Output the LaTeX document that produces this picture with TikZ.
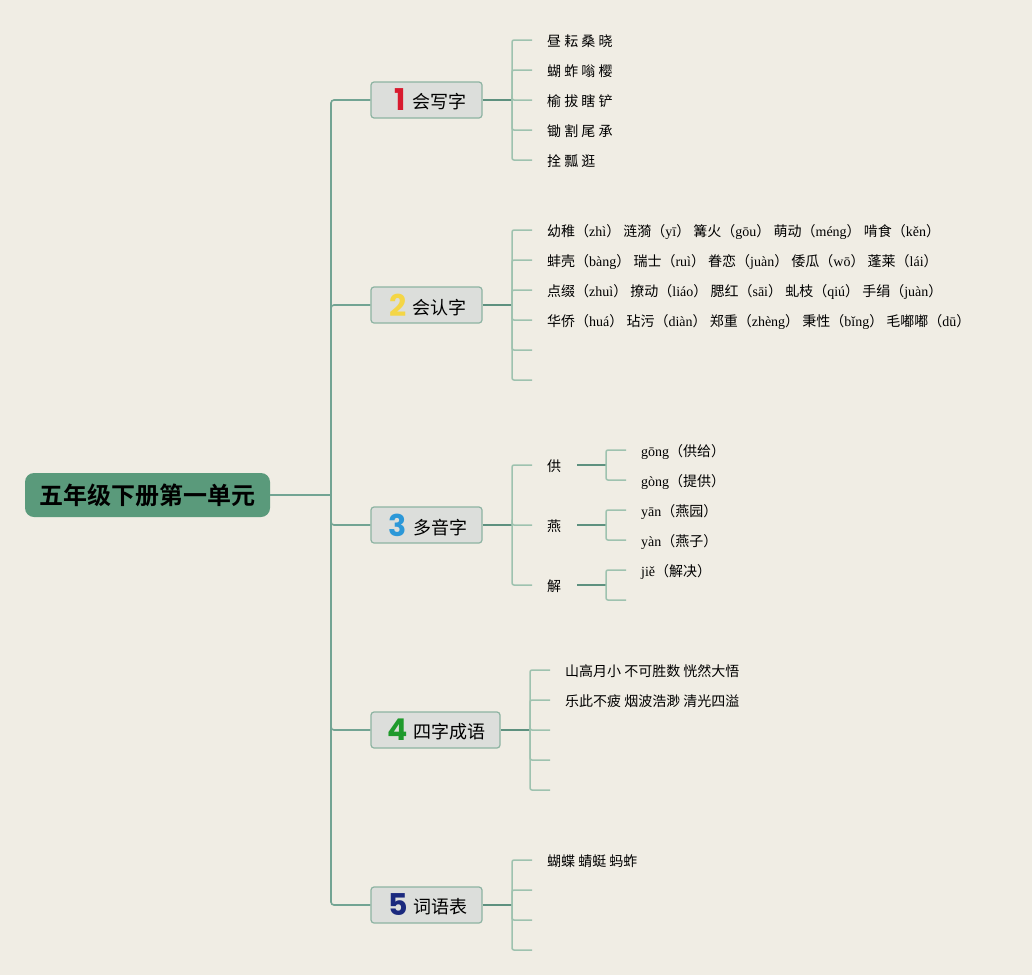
\documentclass[tikz,border=0pt]{standalone}
\usepackage{fontspec}
\setmainfont{Noto Sans CJK SC}[BoldFont={Noto Sans CJK SC Bold}]
\newfontfamily\pyf{Liberation Serif}
\newfontfamily\numf{Poppins}
\definecolor{bgc}{HTML}{F0EDE4}
\definecolor{rootc}{HTML}{5A9A7B}
\definecolor{boxc}{HTML}{DCDEDB}
\definecolor{boxd}{HTML}{8DB3A2}
\definecolor{trunkc}{HTML}{72A493}
\definecolor{leafc}{HTML}{9EC2AF}
\definecolor{darkc}{HTML}{5E917F}
\definecolor{numa}{HTML}{D81A2E}
\definecolor{numb}{HTML}{F4D646}
\definecolor{numc}{HTML}{2C98D8}
\definecolor{numd}{HTML}{1F9A2C}
\definecolor{nume}{HTML}{1B2A7E}
\newcommand\py[1]{（{\pyf #1}）}
\newcommand\numtag[3]{\hspace*{#3}{\numf\bfseries\fontsize{30}{30}\selectfont\color{#1}#2}\hspace{6pt}}
\newcommand\boxlabel[1]{\raisebox{2pt}{#1}}
\begin{document}
\begin{tikzpicture}[x=1pt,y=-1pt,
 trunk/.style={draw=trunkc,line width=1.6pt,rounded corners=3pt},
 leafline/.style={draw=leafc,line width=1.5pt,rounded corners=2pt},
 linkline/.style={draw=darkc,line width=2pt},
 rootbox/.style={fill=rootc,rounded corners=9pt,minimum width=245pt,minimum height=44pt,inner sep=0pt,font=\fontsize{24}{24}\selectfont\bfseries},
 branchbox/.style={fill=boxc,draw=boxd,line width=1.2pt,rounded corners=3pt,minimum height=36pt,inner sep=0pt,font=\fontsize{18}{18}\selectfont},
 leaftext/.style={anchor=west,inner xsep=0pt,inner ysep=0pt,text height=13.8pt,text depth=0pt,font=\fontsize{14}{14}\selectfont},
]
\fill[bgc] (0,0) rectangle (1032,975);
\useasboundingbox (0,0) rectangle (1032,975);

% root and trunk
\node[rootbox] (root) at (147.5,495) {五年级下册第一单元};
\coordinate (T) at (331,495);
\draw[trunk] (root.east) -- (T);

\node[branchbox,minimum width=111pt] (b1) at (426.5,100) {\numtag{numa}{1}{8pt}\boxlabel{会写字}};
\node[branchbox,minimum width=111pt] (b2) at (426.5,305) {\numtag{numb}{2}{3pt}\boxlabel{会认字}};
\node[branchbox,minimum width=111pt] (b3) at (426.5,525) {\numtag{numc}{3}{3pt}\boxlabel{多音字}};
\node[branchbox,minimum width=129pt] (b4) at (435.5,730) {\numtag{numd}{4}{2pt}\boxlabel{四字成语}};
\node[branchbox,minimum width=111pt] (b5) at (426.5,905) {\numtag{nume}{5}{3pt}\boxlabel{词语表}};
\foreach \b in {b1,b2,b3,b4,b5} \draw[trunk] (T) |- (\b.west);

% branch 1
\coordinate (s1) at (512,100);
\draw[linkline] (b1.east) -- (s1);
\node[leaftext] (l11) at (547,40) {昼 耘 桑 晓};
\node[leaftext] (l12) at (547,70) {蝴 蚱 嗡 樱};
\node[leaftext] (l13) at (547,100) {榆 拔 瞎 铲};
\node[leaftext] (l14) at (547,130) {锄 割 尾 承};
\node[leaftext] (l15) at (547,160) {拴 瓢 逛};
\foreach \n in {l11,l12,l13,l14,l15} \draw[leafline] (s1) |- ([xshift=-15pt]\n.west);

% branch 2
\coordinate (s2) at (512,305);
\draw[linkline] (b2.east) -- (s2);
\node[leaftext] (l21) at (547,230) {幼稚\py{zhì} 涟漪\py{yī} 篝火\py{gōu} 萌动\py{méng} 啃食\py{kěn}};
\node[leaftext] (l22) at (547,260) {蚌壳\py{bàng} 瑞士\py{ruì} 眷恋\py{juàn} 倭瓜\py{wō} 蓬莱\py{lái}};
\node[leaftext] (l23) at (547,290) {点缀\py{zhuì} 撩动\py{liáo} 腮红\py{sāi} 虬枝\py{qiú} 手绢\py{juàn}};
\node[leaftext] (l24) at (547,320) {华侨\py{huá} 玷污\py{diàn} 郑重\py{zhèng} 秉性\py{bǐng} 毛嘟嘟\py{dū}};
\foreach \n in {l21,l22,l23,l24} \draw[leafline] (s2) |- ([xshift=-15pt]\n.west);
\coordinate (l25) at (532,350);
\coordinate (l26) at (532,380);
\draw[leafline] (s2) |- (l25);
\draw[leafline] (s2) |- (l26);

% branch 3
\coordinate (s3) at (512,525);
\draw[linkline] (b3.east) -- (s3);
\node[leaftext] (p1) at (547,465) {供};
\node[leaftext] (p2) at (547,525) {燕};
\node[leaftext] (p3) at (547,585) {解};
\foreach \n in {p1,p2,p3} \draw[leafline] (s3) |- ([xshift=-15pt]\n.west);
\coordinate (u1) at (606,465);
\coordinate (u2) at (606,525);
\coordinate (u3) at (606,585);
\draw[linkline] ([xshift=16pt]p1.east) -- (u1);
\draw[linkline] ([xshift=16pt]p2.east) -- (u2);
\draw[linkline] ([xshift=16pt]p3.east) -- (u3);
\node[leaftext] (q1) at (641,450) {{\pyf gōng}（供给）};
\node[leaftext] (q2) at (641,480) {{\pyf gòng}（提供）};
\node[leaftext] (q3) at (641,510) {{\pyf yān}（燕园）};
\node[leaftext] (q4) at (641,540) {{\pyf yàn}（燕子）};
\node[leaftext] (q5) at (641,570) {{\pyf jiě}（解决）};
\coordinate (q6) at (626,600);
\draw[leafline] (u1) |- ([xshift=-15pt]q1.west);
\draw[leafline] (u1) |- ([xshift=-15pt]q2.west);
\draw[leafline] (u2) |- ([xshift=-15pt]q3.west);
\draw[leafline] (u2) |- ([xshift=-15pt]q4.west);
\draw[leafline] (u3) |- ([xshift=-15pt]q5.west);
\draw[leafline] (u3) |- (q6);

% branch 4
\coordinate (s4) at (530,730);
\draw[linkline] (b4.east) -- (s4);
\node[leaftext] (l41) at (565,670) {山高月小 不可胜数 恍然大悟};
\node[leaftext] (l42) at (565,700) {乐此不疲 烟波浩渺 清光四溢};
\foreach \n in {l41,l42} \draw[leafline] (s4) |- ([xshift=-15pt]\n.west);
\coordinate (l43) at (550,730);
\coordinate (l44) at (550,760);
\coordinate (l45) at (550,790);
\foreach \n in {l43,l44,l45} \draw[leafline] (s4) |- (\n);

% branch 5
\coordinate (s5) at (512,905);
\draw[linkline] (b5.east) -- (s5);
\node[leaftext] (l51) at (547,860) {蝴蝶 蜻蜓 蚂蚱};
\draw[leafline] (s5) |- ([xshift=-15pt]l51.west);
\coordinate (l52) at (532,890);
\coordinate (l53) at (532,920);
\coordinate (l54) at (532,950);
\foreach \n in {l52,l53,l54} \draw[leafline] (s5) |- (\n);
\end{tikzpicture}
\end{document}
